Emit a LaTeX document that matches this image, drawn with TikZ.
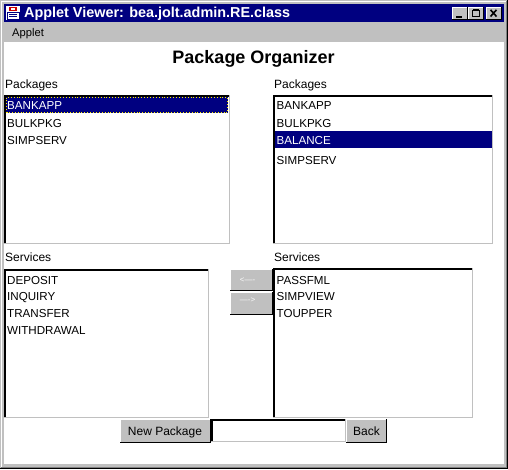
\documentclass[tikz,border=0pt]{standalone}
\usepackage{fontspec}
\setmainfont{Liberation Sans}
\definecolor{navy}{RGB}{0,0,128}
\definecolor{wgray}{RGB}{192,192,192}
\definecolor{dgray}{RGB}{128,128,128}
\definecolor{dimtext}{RGB}{250,250,250}
\newcommand{\sunkenbox}[4]{%
  \fill[white] (#1,#2) rectangle (#3,#4);
  \draw[wgray, line width=1pt] (#1,#4-0.5) -- (#3-0.5,#4-0.5) -- (#3-0.5,#2);
  \draw[black, line width=2pt] (#1+1,#4-1) -- (#1+1,#2+1) -- (#3-1,#2+1);
}
\newcommand{\raisedbox}[4]{%
  \fill[wgray] (#1,#2) rectangle (#3,#4);
  \draw[white, line width=1pt] (#1+0.5,#4-1) -- (#1+0.5,#2+0.5) -- (#3-1,#2+0.5);
  \draw[black, line width=1.5pt] (#1,#4-0.75) -- (#3-0.75,#4-0.75) -- (#3-0.75,#2);
}
\tikzset{
  lbl/.style={anchor=base west, inner sep=0pt, font=\fontsize{12}{14}\selectfont},
  item/.style={anchor=base west, inner sep=0pt, font=\fontsize{11.6}{14}\selectfont},
  sel/.style={item, text=white},
  btn/.style={anchor=base, inner sep=0pt, font=\fontsize{12}{14}\selectfont},
  dimbtn/.style={anchor=center, inner sep=0pt, text=dimtext, font=\fontsize{8}{9}\selectfont},
}
\begin{document}
\begin{tikzpicture}[x=1pt,y=-1pt]
\useasboundingbox (0,0) rectangle (508,469);
% window frame
\fill[wgray] (0,0) rectangle (508,469);
\draw[white, line width=1pt] (1.5,467) -- (1.5,1.5) -- (506,1.5);
\draw[black, line width=1pt] (0,468.5) -- (507.5,468.5) -- (507.5,0);
\draw[dgray, line width=1pt] (1,467.5) -- (506.5,467.5) -- (506.5,1);
% title bar
\fill[navy] (4,4) rectangle (504,22);
% icon
\fill[white] (6,6) rectangle (20,20);
\draw[navy, line width=1pt] (7,12) rectangle (19,19);
\draw[navy, line width=0.8pt] (9,14) -- (17,14) (9,16.5) -- (17,16.5);
\fill[red!80!black] (9,6.5) rectangle (17,10.5);
\fill[white] (11,7.5) rectangle (15,9.5);
\node[anchor=base west, inner sep=0pt, text=white, font=\bfseries\fontsize{14.4}{16}\selectfont] (title) at (24,17.5) {Applet Viewer: bea.jolt.admin.RE.class};
% title buttons
\raisedbox{452}{7}{468}{20}
\raisedbox{468}{7}{484}{20}
\raisedbox{486}{7}{502}{20}
\fill[black] (456,15.5) rectangle (462,17.5);
\draw[black, line width=1pt] (472.5,10) rectangle (479.5,16.5);
\draw[black, line width=1.6pt] (473,9.5) -- (479,9.5);
\draw[black, line width=1.6pt] (490.5,9.8) -- (496.5,16.5) (496.5,9.8) -- (490.5,16.5);
% menu bar
\node[anchor=base west, inner sep=0pt, font=\fontsize{11.2}{13}\selectfont] (menu) at (12,36) {Applet};
% content
\fill[white] (4,42) rectangle (503.5,463.5);
\node[anchor=base, inner sep=0pt, font=\bfseries\fontsize{18}{20}\selectfont] (head) at (253.5,63) {Package Organizer};
% package labels
\node[lbl] (lpk) at (5,88) {Packages};
\node[lbl] (rpk) at (274,88) {Packages};
% left packages list
\sunkenbox{4}{95}{230}{244}
\fill[navy] (6,97) rectangle (228,113);
\draw[yellow, dotted, line width=0.9pt] (6.5,97.5) rectangle (227.5,112.5);
\node[sel] (l1) at (7,109.5) {BANKAPP};
\node[item] (l2) at (7,127) {BULKPKG};
\node[item] (l3) at (7,144.5) {SIMPSERV};
% right packages list
\sunkenbox{273}{95}{493}{244}
\fill[navy] (275,131) rectangle (492,148);
\node[item] (r1) at (276.5,109.5) {BANKAPP};
\node[item] (r2) at (276.5,127) {BULKPKG};
\node[sel] (r3) at (276.5,144.5) {BALANCE};
\node[item] (r4) at (276.5,164) {SIMPSERV};
% services labels
\node[lbl] (lsv) at (5,261) {Services};
\node[lbl] (rsv) at (274,261) {Services};
% left services list
\sunkenbox{4}{269}{209}{418}
\node[item] (s1) at (7,284) {DEPOSIT};
\node[item] (s2) at (7,300.7) {INQUIRY};
\node[item] (s3) at (7,317.3) {TRANSFER};
\node[item] (s4) at (7,334) {WITHDRAWAL};
% right services list
\sunkenbox{273}{268}{473}{418}
\node[item] (t1) at (276.5,284) {PASSFML};
\node[item] (t2) at (276.5,300.7) {SIMPVIEW};
\node[item] (t3) at (276.5,317.3) {TOUPPER};
% move buttons
\raisedbox{230}{269}{273}{291}
\raisedbox{230}{292}{273}{315}
\node[dimbtn] (bl) at (247.5,280) {<----};
\node[dimbtn] (br) at (247.5,300) {---->};
% bottom controls
\raisedbox{120}{419}{211}{443}
\node[btn] (np) at (165,435) {New Package};
\sunkenbox{211}{419}{346}{442}
\raisedbox{346}{419}{387}{443}
\node[btn] (bk) at (366.5,435) {Back};
\end{tikzpicture}
\end{document}
